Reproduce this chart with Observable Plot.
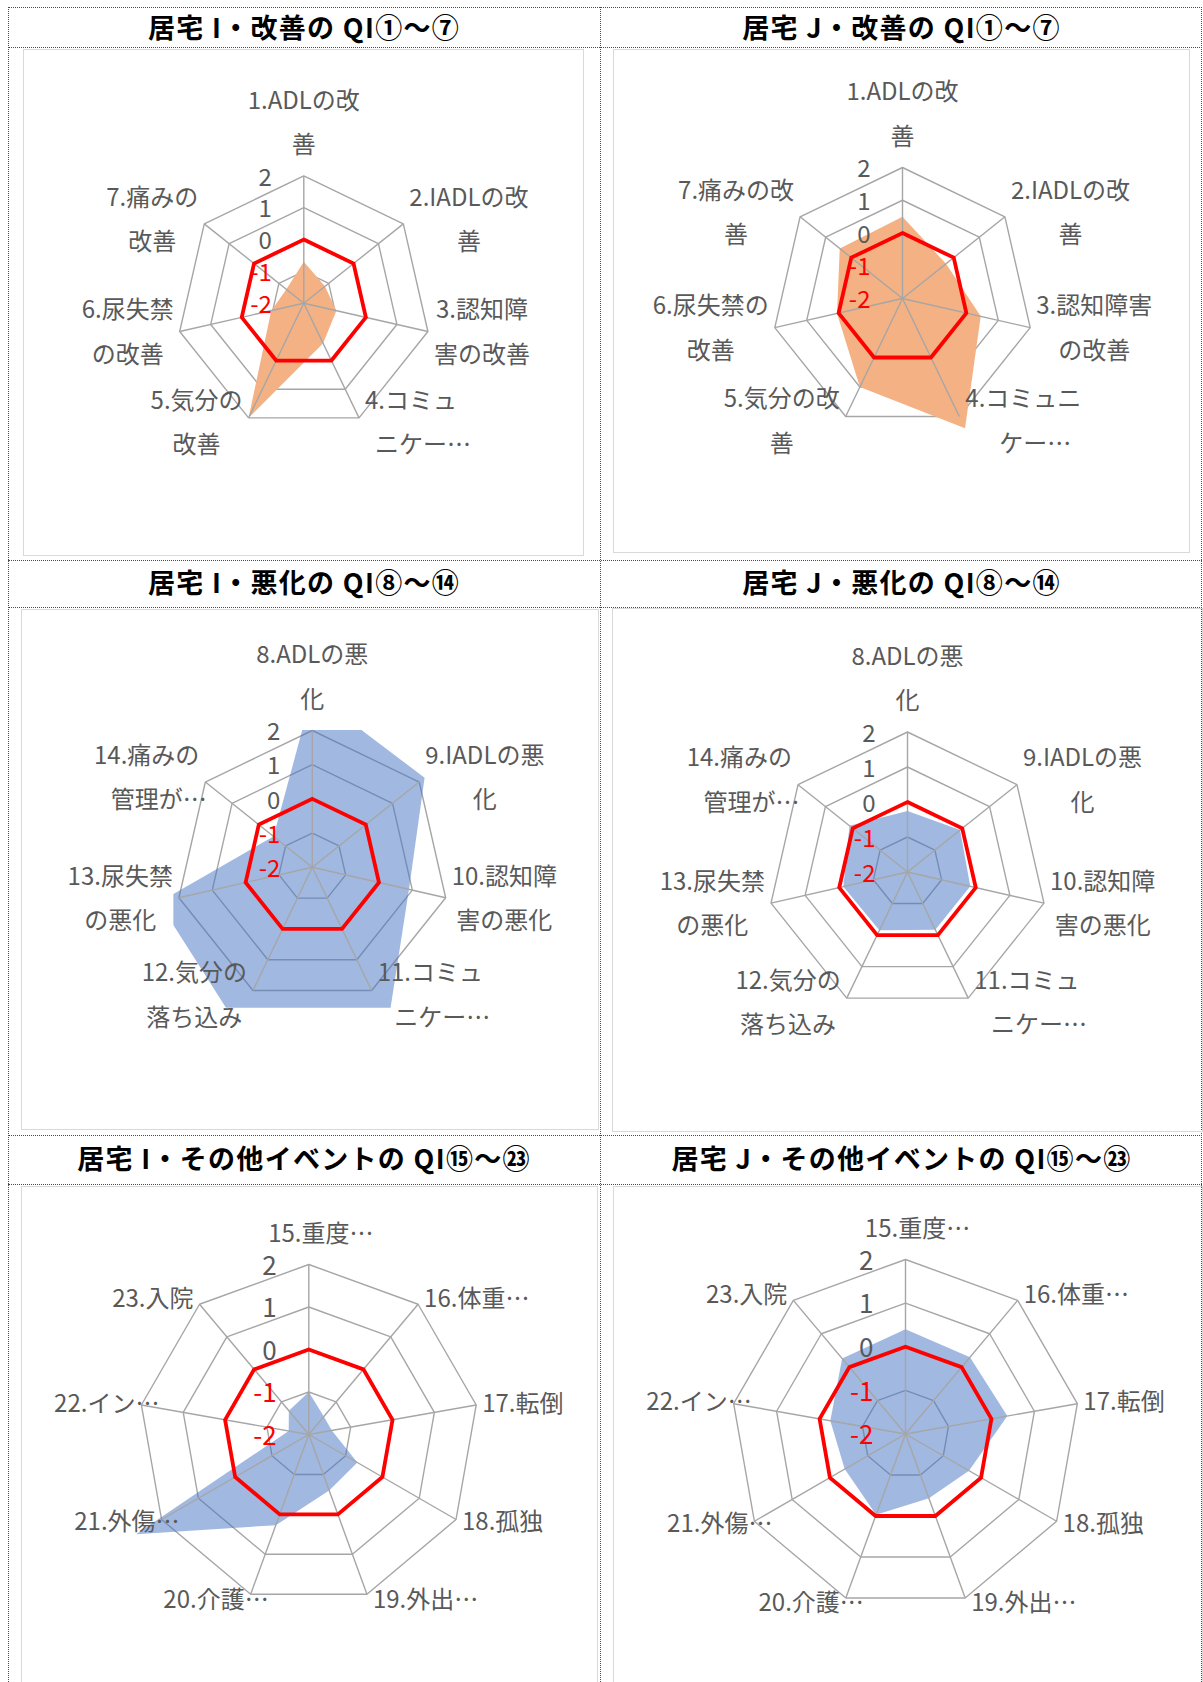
<!DOCTYPE html>
<html><head><meta charset="utf-8">
<script src="https://cdn.jsdelivr.net/npm/d3@7"></script>
<script src="https://cdn.jsdelivr.net/npm/@observablehq/plot@0.6"></script>
<style>
html,body{margin:0;padding:0;background:#fff;}
body{width:1203px;height:1682px;position:relative;overflow:hidden;font-family:"Noto Sans CJK JP",sans-serif;}
.hl{position:absolute;left:8px;width:1194px;height:0;border-top:1px dotted #4a4a4a;}
.vl{position:absolute;top:7px;height:1675px;width:0;border-left:1px dotted #4a4a4a;}
.title{position:absolute;font-size:27px;font-weight:700;color:#000;white-space:nowrap;transform:translate(-50%,-50%);letter-spacing:1.3px;}
.box{position:absolute;border:1.3px solid #d9d9d9;box-sizing:border-box;}
.chart{position:absolute;}
</style></head><body>
<script>
// ---------- data ----------
const titles = [
  "居宅 I・改善の QI①～⑦", "居宅 J・改善の QI①～⑦",
  "居宅 I・悪化の QI⑧～⑭", "居宅 J・悪化の QI⑧～⑭",
  "居宅 I・その他イベントの QI⑮～㉓", "居宅 J・その他イベントの QI⑮～㉓"
];
const catImproveI = ["1.ADLの改\n善","2.IADLの改\n善","3.認知障\n害の改善","4.コミュ\nニケー…","5.気分の\n改善","6.尿失禁\nの改善","7.痛みの\n改善"];
const catImproveJ = ["1.ADLの改\n善","2.IADLの改\n善","3.認知障害\nの改善","4.コミュニ\nケー…","5.気分の改\n善","6.尿失禁の\n改善","7.痛みの改\n善"];
const catWorsen   = ["8.ADLの悪\n化","9.IADLの悪\n化","10.認知障\n害の悪化","11.コミュ\nニケー…","12.気分の\n落ち込み","13.尿失禁\nの悪化","14.痛みの\n管理が…"];
const catOther    = ["15.重度…","16.体重…","17.転倒","18.孤独","19.外出…","20.介護…","21.外傷…","22.イン…","23.入院"];

const valImproveI = [-0.7, -1.15, -0.95, -0.6, 2.0, -0.95, -1.3];
const valImproveJ = [0.5, -0.3, 0.45, 2.4, 1.0, 0.05, 0.45];
const valWorsenI  = [3.1, 2.2, 0.9, 3.1, 3.1, 2.6, -0.55];
const valWorsenJ  = [-0.26, -0.08, -0.16, -0.17, -0.15, -0.12, 0.12];
const valOtherI   = [-1.0, -1.45, -1.45, -0.68, -0.6, 0.27, 2.7, -1.52, -1.27];
const valOtherJ   = [0.4, 0.3, 0.37, -0.32, -0.43, -0.03, -0.39, -0.25, 0.26];
const ref7 = [0, 0, 0, 0, 0, 0, 0];
const ref9 = [0, 0, 0, 0, 0, 0, 0, 0, 0];
const axisTicks = [2, 1, 0, -1, -2];
const axisMin = -2, axisMax = 2;

// ---------- styles / layout ----------
const ORANGE = "#F4B183", BLUE = "#4472C4";
const panels = [
  {cats: catImproveI, vals: valImproveI, ref: ref7, fill: ORANGE, op: 1},
  {cats: catImproveJ, vals: valImproveJ, ref: ref7, fill: ORANGE, op: 1},
  {cats: catWorsen,   vals: valWorsenI,  ref: ref7, fill: BLUE, op: 0.5},
  {cats: catWorsen,   vals: valWorsenJ,  ref: ref7, fill: BLUE, op: 0.5},
  {cats: catOther,    vals: valOtherI,   ref: ref9, fill: BLUE, op: 0.5},
  {cats: catOther,    vals: valOtherJ,   ref: ref9, fill: BLUE, op: 0.5}
];
const layout = [
  {box:{x:23,y:49,w:561,h:507},   cx:303.3, cy:302.7,  R:127.3, tick:24, tx:304,   ty:26},
  {box:{x:613,y:49,w:577,h:504},  cx:902,   cy:298,    R:131,   tick:24, tx:901.5, ty:26},
  {box:{x:21,y:609,w:578,h:521},  cx:311.8, cy:866.8,  R:136.8, tick:24, tx:304,   ty:581},
  {box:{x:612,y:608,w:591,h:524}, cx:907,   cy:871.5,  R:140,   tick:24, tx:901.5, ty:581},
  {box:{x:21,y:1186,w:577,h:510}, cx:308.3, cy:1434,   R:170,   tick:26, tx:304,   ty:1157},
  {box:{x:613,y:1186,w:590,h:510},cx:905,   cy:1433.5, R:174.5, tick:26, tx:901.5, ty:1157}
];
const FS = 24, LS = 44.5, GAP = 6, GAPT = 18.5;
const FONT = '"Noto Sans CJK JP", sans-serif';
const GRID = "#a6a6a6", LABEL = "#595959";

// table lines
[7, 46.5, 559.5, 607, 1135, 1184].forEach(y => {
  const d = document.createElement("div"); d.className = "hl"; d.style.top = y + "px"; document.body.appendChild(d);
});
[8, 600, 1201].forEach(x => {
  const d = document.createElement("div"); d.className = "vl"; d.style.left = x + "px"; document.body.appendChild(d);
});

const ctx = document.createElement("canvas").getContext("2d");
ctx.font = `${FS}px "Noto Sans CJK JP"`;
const ellW = ctx.measureText("…").width;

function radar(p, L) {
  const n = p.cats.length;
  const {box, cx, cy, R} = L;
  const ang = i => 2 * Math.PI * i / n;
  const norm = v => (v - axisMin) / (axisMax - axisMin);
  const pt = (i, v) => ({x: norm(v) * Math.sin(ang(i)), y: norm(v) * Math.cos(ang(i))});
  const clipL = 1.012, clipR = 1.012, clipT = 1.0, clipB = 1.03;
  const mL = (cx - box.x) - R * clipL, mR = (box.x + box.w) - (cx + R * clipR);
  const mT = (cy - box.y) - R * clipT, mB = (box.y + box.h) - (cy + R * clipB);

  const rings = [];
  axisTicks.filter(t => t > axisMin).forEach(t => p.cats.forEach((c, i) => rings.push({...pt(i, t), level: t})));
  const spokes = p.cats.map((c, i) => pt(i, axisMax));
  const series = p.vals.map((v, i) => pt(i, v));
  const refLine = p.ref.map((v, i) => pt(i, v));
  const ticks = axisTicks.map(t => ({t, x: -32 / R, y: norm(t) - 2 / R, label: String(t)}));

  const labels = [];
  p.cats.forEach((c, i) => {
    const lines = c.split("\n");
    const wRed = lines.map(l => ctx.measureText(l).width - (l.includes("…") ? ellW : 0));
    const W = Math.max(...wRed);
    const sx = Math.sin(ang(i)), sy = -Math.cos(ang(i));
    const vx = cx + R * sx, vy = cy + R * sy;
    const H = (lines.length - 1) * LS + FS;
    let bx, by;
    if (Math.abs(sx) < 0.05) {
      bx = vx;
      by = sy < 0 ? vy - GAPT - H / 2 : vy + GAPT + H / 2;
    } else {
      bx = vx + Math.sign(sx) * (GAP + W / 2);
      by = vy + 6 * sy;
    }
    lines.forEach((l, k) => {
      const lx = bx + (l.includes("…") ? ellW / 2 : 0);
      const ly = by + (k - (lines.length - 1) / 2) * LS;
      labels.push({text: l, x: (lx - cx) / R, y: -(ly - cy) / R});
    });
  });

  return Plot.plot({
    width: box.w, height: box.h,
    marginLeft: mL, marginRight: mR, marginTop: mT, marginBottom: mB,
    x: {domain: [-clipL, clipR], axis: null},
    y: {domain: [-clipB, clipT], axis: null},
    style: {background: "transparent", fontFamily: FONT, overflow: "visible"},
    marks: [
      Plot.line(rings, {x: "x", y: "y", z: "level", curve: "linear-closed", stroke: GRID, strokeWidth: 1.4, strokeLinejoin: "miter"}),
      Plot.line(series, {x: "x", y: "y", curve: "linear-closed", fill: p.fill, fillOpacity: p.op, stroke: "none", clip: true}),
      Plot.link(spokes, {x1: () => 0, y1: () => 0, x2: "x", y2: "y", stroke: GRID, strokeWidth: 1.4}),
      Plot.line(refLine, {x: "x", y: "y", curve: "linear-closed", stroke: "#FF0000", strokeWidth: 3.8, strokeLinejoin: "miter", strokeMiterlimit: 10}),
      Plot.text(ticks.filter(d => d.t >= 0), {x: "x", y: "y", text: "label", textAnchor: "end", fontSize: L.tick, fill: LABEL}),
      Plot.text(ticks.filter(d => d.t < 0), {x: "x", y: "y", text: "label", textAnchor: "end", fontSize: L.tick, fill: "#FF0000"}),
      Plot.text(labels, {x: "x", y: "y", text: "text", textAnchor: "middle", fontSize: FS, fill: LABEL})
    ]
  });
}

panels.forEach((p, k) => {
  const L = layout[k];
  const b = document.createElement("div");
  b.className = "box";
  Object.assign(b.style, {left: L.box.x + "px", top: L.box.y + "px", width: L.box.w + "px", height: L.box.h + "px"});
  document.body.appendChild(b);
  const svg = radar(p, L);
  svg.classList.add("chart");
  svg.style.left = L.box.x + "px"; svg.style.top = L.box.y + "px";
  document.body.appendChild(svg);
  const t = document.createElement("div");
  t.className = "title"; t.textContent = titles[k];
  t.style.left = L.tx + "px"; t.style.top = L.ty + "px";
  document.body.appendChild(t);
});
</script>
</body></html>
